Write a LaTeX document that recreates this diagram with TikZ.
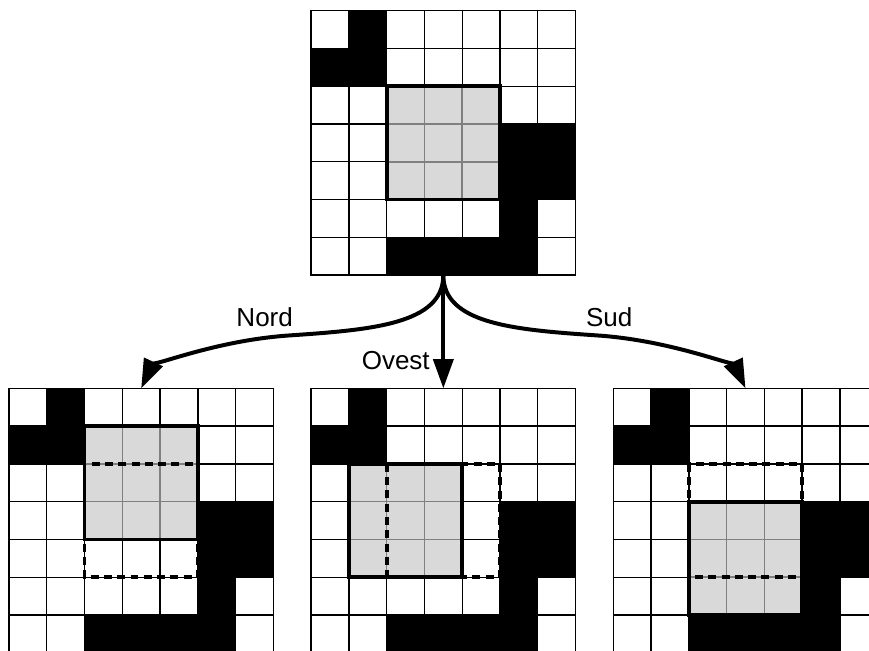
\documentclass[tikz,border=0pt]{standalone}
\usepackage{fontspec}
\setmainfont{Liberation Sans}
\usepackage{xcolor}
\usetikzlibrary{arrows.meta}
\definecolor{cGrigio}{HTML}{D9D9D9}
\definecolor{cLinea}{HTML}{808080}

% one 7x7 grid: #1,#2 = top-left corner, #3,#4 = column, row of the grey block
\newcommand{\griglia}[4]{%
  \begin{scope}[shift={(#1,#2)}]
    \foreach \i in {0,...,6}
      \foreach \j in {0,...,6}
        \draw[cella] (\i,\j) rectangle ++(1,1);
    \foreach \i in {0,1,2}
      \foreach \j in {0,1,2}
        \draw[cellagrigia] (#3+\i,#4+\j) rectangle ++(1,1);
    \foreach \i/\j in {1/0,0/1,1/1,5/3,6/3,5/4,6/4,5/5,2/6,3/6,4/6,5/6}
      \draw[cellanera] (\i,\j) rectangle ++(1,1);
    \draw[blocco] (#3,#4) rectangle ++(3,3);
  \end{scope}}

\begin{document}
\begin{tikzpicture}[
  x=0.5cm, y=-0.5cm,
  every node/.style={font=\fontsize{9.8}{12}\selectfont, inner sep=0pt},
  cella/.style={draw=black, line width=0.5pt, fill=white},
  cellagrigia/.style={draw=cLinea, line width=0.6pt, fill=cGrigio},
  cellanera/.style={draw=black, line width=0.5pt, fill=black},
  blocco/.style={draw=black, line width=1.4pt},
  tratteggio/.style={draw=black, line width=1.4pt, dash pattern=on 3pt off 2pt},
  freccia/.style={line width=1.5pt, -{Triangle[length=11pt,width=7.5pt]}},
]

\clip (-0.238,-0.283) rectangle (22.77,16.93);

\griglia{8}{0}{2}{2}
\griglia{0}{10}{2}{1}
\griglia{8}{10}{1}{2}
\griglia{16}{10}{2}{3}

% old position of the block
\draw[tratteggio] (2,12) rectangle ++(3,3);
\draw[tratteggio] (10,12) rectangle ++(3,3);
\draw[tratteggio] (18,12) rectangle ++(3,3);

\coordinate (partenza) at (11.5,7);
\coordinate (nord) at (3.5,10);
\coordinate (ovest) at (11.5,10);
\coordinate (sud) at (19.5,10);

\draw[freccia] (partenza) .. controls (11.5,8.3) and (9.6,8.45) .. (7.4,8.6)
  .. controls (5.4,8.74) and (3.75,9.46) .. (nord);
\draw[freccia] (partenza) -- (ovest);
\draw[freccia] (partenza) .. controls (11.5,8.3) and (13.4,8.45) .. (15.6,8.6)
  .. controls (17.6,8.74) and (19.25,9.46) .. (sud);

\node[anchor=base] (lNord) at (6.77,8.37) {Nord};
\node[anchor=base] (lOvest) at (10.24,9.50) {Ovest};
\node[anchor=base] (lSud) at (15.89,8.37) {Sud};

\end{tikzpicture}
\end{document}
